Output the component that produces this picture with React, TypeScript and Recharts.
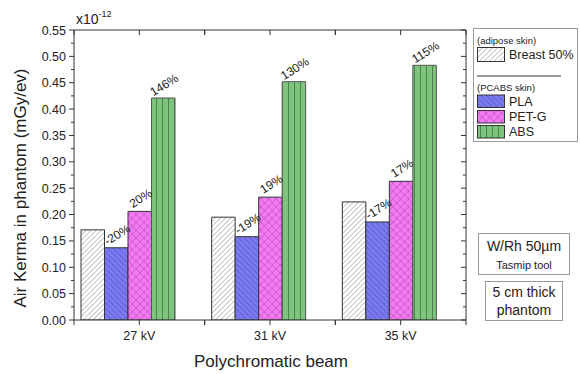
import React from "react";
import { BarChart, Bar, XAxis, YAxis, LabelList } from "recharts";

const categories = ["27 kV", "31 kV", "35 kV"];
const breast = [0.171, 0.195, 0.224];
const pla = [0.137, 0.158, 0.186];
const petg = [0.206, 0.233, 0.263];
const abs = [0.421, 0.452, 0.483];
const plaLabels = ["-20%", "-19%", "-17%"];
const petgLabels = ["20%", "19%", "17%"];
const absLabels = ["146%", "130%", "115%"];
const yTickValues = [0, 0.025, 0.05, 0.075, 0.1, 0.125, 0.15, 0.175, 0.2, 0.225, 0.25, 0.275, 0.3, 0.325, 0.35, 0.375, 0.4, 0.425, 0.45, 0.475, 0.5, 0.525, 0.55];

const data = categories.map((c, i) => ({
  cat: c,
  breast: breast[i],
  pla: pla[i],
  petg: petg[i],
  abs: abs[i],
  spacer: null,
  plaLbl: plaLabels[i],
  petgLbl: petgLabels[i],
  absLbl: absLabels[i],
}));

const W = 580;
const H = 374;
const LEFT = 74;
const RIGHT = 114;
const TOP = 30;
const BOTTOM = 54;
const BAND = (W - LEFT - RIGHT) / categories.length;
const FONT = "'Liberation Sans', Arial, sans-serif";
const AX = "#333";

const isMajor = (v: number) => Math.round(v * 1000) % 50 === 0;

const BottomTick = (props: any) => {
  const { x, y, payload } = props;
  const h = BAND / 2;
  return (
    <g>
      {[x - h, x, x + h].map((xx: number, k: number) => (
        <line key={k} x1={xx} x2={xx} y1={y} y2={y + 5} stroke={AX} strokeWidth={1} />
      ))}
      <text x={x} y={y + 19.5} textAnchor="middle" fontSize={12.5} fontFamily={FONT} fill="#222">
        {payload.value}
      </text>
    </g>
  );
};

const TopTick = (props: any) => {
  const { x, y } = props;
  const h = BAND / 2;
  return (
    <g>
      {[x - h, x, x + h].map((xx: number, k: number) => (
        <line key={k} x1={xx} x2={xx} y1={y} y2={y + 5} stroke={AX} strokeWidth={1} />
      ))}
    </g>
  );
};

const LeftTick = (props: any) => {
  const { x, y, payload } = props;
  const major = isMajor(payload.value);
  return (
    <g>
      <line x1={x} x2={x - (major ? 5 : 3)} y1={y} y2={y} stroke={AX} strokeWidth={1} />
      {major && (
        <text x={x - 8} y={y + 4.5} textAnchor="end" fontSize={12.5} fontFamily={FONT} fill="#222">
          {payload.value.toFixed(2)}
        </text>
      )}
    </g>
  );
};

const RightTick = (props: any) => {
  const { x, y, payload } = props;
  const major = isMajor(payload.value);
  return <line x1={x} x2={x - (major ? 5 : 3)} y1={y} y2={y} stroke={AX} strokeWidth={1} />;
};

const PctLabel = (props: any) => {
  const { x, y, width, value } = props;
  if (value == null) return null;
  const cx = x + width / 2 + 1;
  const cy = y - 13;
  return (
    <text
      x={cx}
      y={cy}
      transform={`rotate(-32 ${cx} ${cy})`}
      textAnchor="middle"
      dominantBaseline="central"
      fontSize={12}
      fontFamily={FONT}
      fill="#222"
    >
      {value}
    </text>
  );
};

const Patterns = () => (
  <svg width={0} height={0} style={{ position: "absolute" }}>
    <defs>
      <pattern id="pBreast" patternUnits="userSpaceOnUse" width={3.6} height={3.6} patternTransform="rotate(45)">
        <rect width={3.6} height={3.6} fill="#ffffff" />
        <line x1={0} y1={0} x2={0} y2={3.6} stroke="#8a8a8a" strokeWidth={1} />
      </pattern>
      <pattern id="pPla" patternUnits="userSpaceOnUse" width={4} height={4} patternTransform="rotate(-45)">
        <rect width={4} height={4} fill="#7a7af2" />
        <line x1={0} y1={0} x2={0} y2={4} stroke="#3e3e9e" strokeWidth={0.8} />
      </pattern>
      <pattern id="pPetg" patternUnits="userSpaceOnUse" width={5.5} height={5.5} patternTransform="rotate(45)">
        <rect width={5.5} height={5.5} fill="#f47af4" />
        <line x1={0} y1={0} x2={0} y2={5.5} stroke="#a040a0" strokeWidth={0.8} />
        <line x1={0} y1={0} x2={5.5} y2={0} stroke="#a040a0" strokeWidth={0.8} />
      </pattern>
      <pattern id="pAbs" patternUnits="userSpaceOnUse" width={6} height={6}>
        <rect width={6} height={6} fill="#7ec47e" />
        <line x1={0.5} y1={0} x2={0.5} y2={6} stroke="#4a864a" strokeWidth={1} />
      </pattern>
    </defs>
  </svg>
);

const Overlay = () => (
  <svg width={W} height={H} style={{ position: "absolute", left: 0, top: 0, pointerEvents: "none" }} fontFamily={FONT}>
    <text x={76} y={24} fontSize={14} fill="#222">
      x10<tspan fontSize={9} dy={-7}>-12</tspan>
    </text>
    <text x={20} y={188} transform="rotate(-90 20 188)" textAnchor="middle" dominantBaseline="central" fontSize={17} fill="#222">
      Air Kerma in phantom (mGy/ev)
    </text>
    <text x={271} y={367} textAnchor="middle" fontSize={17} fill="#222">
      Polychromatic beam
    </text>
    <rect x={473.5} y={28.5} width={104} height={113} fill="#fff" stroke="#999" />
    <text x={477} y={44} fontSize={9.5} fill="#222">(adipose skin)</text>
    <rect x={477.5} y={47.5} width={27} height={14} fill="url(#pBreast)" stroke="#333" />
    <text x={509} y={59} fontSize={12.5} fill="#222">Breast 50%</text>
    <line x1={477} x2={561} y1={76} y2={76} stroke="#333" strokeWidth={1} />
    <text x={477} y={90.5} fontSize={9.5} fill="#222">(PCABS skin)</text>
    <rect x={477.5} y={95} width={27} height={12.5} fill="url(#pPla)" stroke="#333" />
    <text x={509} y={105.5} fontSize={12.5} fill="#222">PLA</text>
    <rect x={477.5} y={110.5} width={27} height={12.5} fill="url(#pPetg)" stroke="#333" />
    <text x={509} y={121} fontSize={12.5} fill="#222">PET-G</text>
    <rect x={477.5} y={125.5} width={27} height={12.5} fill="url(#pAbs)" stroke="#333" />
    <text x={509} y={136} fontSize={12.5} fill="#222">ABS</text>

    <rect x={478.5} y={233.5} width={91} height={41} fill="#fff" stroke="#999" />
    <text x={524} y={251} textAnchor="middle" fontSize={14} fill="#222">W/Rh 50µm</text>
    <text x={524} y={269} textAnchor="middle" fontSize={11} fill="#222">Tasmip tool</text>
    <rect x={485.5} y={281.5} width={77} height={39} fill="#fff" stroke="#999" />
    <text x={524} y={297} textAnchor="middle" fontSize={14} fill="#222">5 cm thick</text>
    <text x={524} y={314.5} textAnchor="middle" fontSize={14} fill="#222">phantom</text>
  </svg>
);

export default function App() {
  return (
    <div style={{ position: "absolute", left: 0, top: 0, width: W, height: H, background: "#fff" }}>
      <Patterns />
      <BarChart
        width={W}
        height={H}
        data={data}
        margin={{ top: 0, right: 0, bottom: 0, left: 0 }}
        barGap={0}
        barSize={23.5}
      >
        <XAxis
          xAxisId="b"
          dataKey="cat"
          orientation="bottom"
          height={BOTTOM}
          interval={0}
          tickLine={false}
          tickSize={0}
          tickMargin={0}
          axisLine={{ stroke: AX }}
          tick={<BottomTick />}
        />
        <XAxis
          xAxisId="t"
          dataKey="cat"
          orientation="top"
          height={TOP}
          interval={0}
          tickLine={false}
          tickSize={0}
          tickMargin={0}
          axisLine={{ stroke: AX }}
          tick={<TopTick />}
        />
        <YAxis
          yAxisId="l"
          type="number"
          width={LEFT}
          domain={[0, 0.55]}
          ticks={yTickValues}
          interval={0}
          allowDataOverflow
          tickLine={false}
          tickSize={0}
          tickMargin={0}
          axisLine={{ stroke: AX }}
          tick={<LeftTick />}
        />
        <YAxis
          yAxisId="r"
          orientation="right"
          type="number"
          width={RIGHT}
          domain={[0, 0.55]}
          ticks={yTickValues}
          interval={0}
          allowDataOverflow
          tickLine={false}
          tickSize={0}
          tickMargin={0}
          axisLine={{ stroke: AX }}
          tick={<RightTick />}
        />
        <Bar xAxisId="b" yAxisId="l" dataKey="breast" fill="url(#pBreast)" stroke="#333" strokeWidth={1} isAnimationActive={false} />
        <Bar xAxisId="b" yAxisId="l" dataKey="pla" fill="url(#pPla)" stroke="#333" strokeWidth={1} isAnimationActive={false}>
          <LabelList dataKey="plaLbl" content={<PctLabel />} />
        </Bar>
        <Bar xAxisId="b" yAxisId="l" dataKey="petg" fill="url(#pPetg)" stroke="#333" strokeWidth={1} isAnimationActive={false}>
          <LabelList dataKey="petgLbl" content={<PctLabel />} />
        </Bar>
        <Bar xAxisId="b" yAxisId="l" dataKey="abs" fill="url(#pAbs)" stroke="#555" strokeWidth={1} isAnimationActive={false}>
          <LabelList dataKey="absLbl" content={<PctLabel />} />
        </Bar>
        <Bar xAxisId="b" yAxisId="l" dataKey="spacer" fill="none" isAnimationActive={false} />
      </BarChart>
      <Overlay />
    </div>
  );
}
